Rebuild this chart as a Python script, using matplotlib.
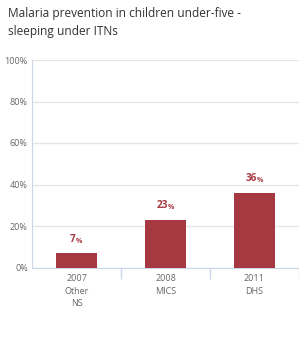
import matplotlib
matplotlib.use('Agg')
import matplotlib.pyplot as plt

# data
categories = ['2007\nOther\nNS', '2008\nMICS', '2011\nDHS']
values = [7, 23, 36]
y_ticks = [0, 20, 40, 60, 80, 100]

bar_color = '#a53841'
label_color = '#666666'

plt.rcParams['font.family'] = ['Open Sans', 'DejaVu Sans']

fig = plt.figure(figsize=(2.99, 3.38), dpi=100)
ax = fig.add_axes([32 / 299, 70.5 / 338, 267 / 299, 207.5 / 338])

x = list(range(len(categories)))
ax.bar(x, values, width=0.45, color=bar_color, zorder=3)

# data labels: bold number with a smaller % sign
for xi, v in zip(x, values):
    t = ax.annotate(str(v), (xi, v), xytext=(-2.5, 6), textcoords='offset points',
                    ha='center', va='bottom', fontsize=7.2, fontweight='bold',
                    color=bar_color)
    ax.annotate('%', xy=(1, 0), xycoords=t, xytext=(-0.3, 0), textcoords='offset points',
                ha='left', va='bottom', fontsize=5, fontweight='bold', color=bar_color)

ax.set_ylim(0, 100)
ax.set_xlim(-0.5, 267 / 91.5 - 0.5)
ax.set_yticks(y_ticks)
ax.set_yticklabels([f'{t}%' for t in y_ticks])
ax.yaxis.grid(True, color='#e6e6e6', linewidth=1, zorder=0)
ax.tick_params(axis='y', length=0, pad=3, labelsize=6.5, labelcolor=label_color)

# category labels centred, tick marks on category boundaries
ax.set_xticks(x)
ax.set_xticklabels(categories)
ax.tick_params(axis='x', length=0, pad=5, labelsize=6.5, labelcolor=label_color)
ax.set_xticks([0.5, 1.5, 2.5], minor=True)
ax.tick_params(axis='x', which='minor', length=8, color='#ccd6eb', width=1)
for lab in ax.get_xticklabels():
    lab.set_linespacing(1.45)

for side in ['top', 'right']:
    ax.spines[side].set_visible(False)
ax.spines['left'].set_color('#ccd6eb')
ax.spines['bottom'].set_color('#ccd6eb')

fig.text(8 / 299, 1 - 7 / 338, 'Malaria prevention in children under-five -\nsleeping under ITNs',
         ha='left', va='top', fontsize=8.6, color='#333333', linespacing=1.5)

fig.savefig('out.png', dpi=100)
